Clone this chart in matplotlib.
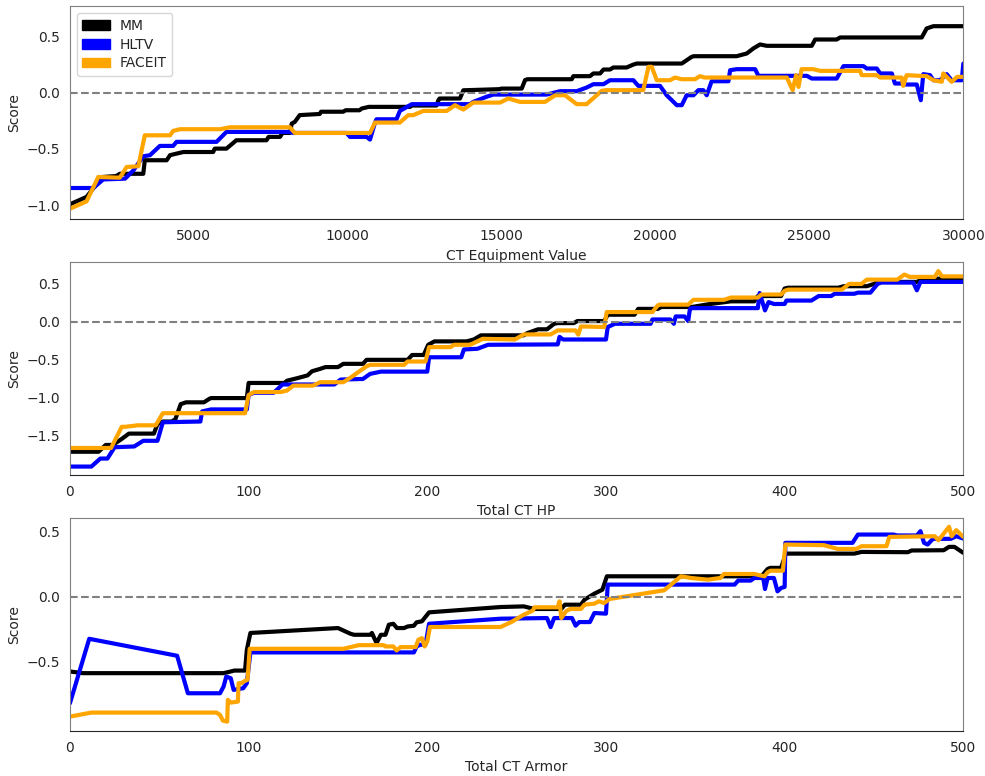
import numpy as np
import matplotlib
matplotlib.use("Agg")
import matplotlib.pyplot as plt
import matplotlib.patches as mpatches
import seaborn as sns

# ---- panel 1: CT Equipment Value ----
equip_mm_x = [1000, 1540, 1900, 1970, 2500, 2620, 3380, 3430, 4140, 4250, 4680, 5650, 5700, 6080, 6300, 6400,
              7380, 7450, 7820, 7900, 8140, 8200, 8300, 8460, 9110, 9150, 9870, 9950, 10400, 10470, 10700, 12040,
              12100, 12900, 12960, 13000, 13660, 13770, 14960, 15000, 15665, 15773, 15850, 17290, 17340, 17880,
              17990, 18210, 18320, 18530, 18640, 19070, 19290, 19400, 20860, 21180, 21250, 22640, 22970, 23180,
              23400, 23620, 25080, 25190, 25890, 26000, 28650, 28810, 29030, 30000]
equip_mm_y = [-0.99, -0.925, -0.80, -0.75, -0.74, -0.72, -0.72, -0.60, -0.60, -0.555, -0.527, -0.527, -0.497,
              -0.497, -0.447, -0.423, -0.423, -0.393, -0.393, -0.358, -0.358, -0.275, -0.26, -0.20, -0.19, -0.17,
              -0.17, -0.157, -0.157, -0.142, -0.127, -0.127, -0.115, -0.115, -0.068, -0.053, -0.053, 0.02, 0.03,
              0.035, 0.035, 0.11, 0.118, 0.118, 0.145, 0.145, 0.169, 0.169, 0.204, 0.204, 0.222, 0.222, 0.248,
              0.257, 0.257, 0.316, 0.322, 0.322, 0.346, 0.39, 0.426, 0.414, 0.414, 0.47, 0.47, 0.488, 0.488,
              0.568, 0.588, 0.588]

equip_hltv_x = [1000, 1760, 2080, 2790, 3060, 3380, 3600, 3920, 4350, 4460, 5760, 6080, 8140, 8250, 9980, 10090,
                10630, 10740, 10900, 10950, 11600, 11710, 12040, 12100, 13990, 14090, 14520, 14740, 16475, 16910,
                17450, 17770, 17990, 18320, 18530, 19290, 19450, 20155, 20370, 20700, 20860, 21020, 21240, 21400,
                21560, 21670, 21830, 22375, 22430, 22640, 23240, 23350, 24920, 25080, 25890, 26110, 26760, 26860,
                27190, 27300, 27680, 27780, 28000, 28110, 28490, 28620, 28700, 28920, 29030, 29240, 29460, 29620,
                29950, 30000]
equip_hltv_y = [-0.846, -0.846, -0.77, -0.763, -0.69, -0.565, -0.555, -0.473, -0.473, -0.437, -0.437, -0.349,
                -0.349, -0.358, -0.358, -0.393, -0.393, -0.417, -0.269, -0.237, -0.237, -0.163, -0.112, -0.103,
                -0.103, -0.083, -0.038, -0.018, -0.018, 0.012, 0.012, 0.044, 0.074, 0.074, 0.109, 0.109, 0.059,
                0.059, -0.024, -0.112, -0.112, -0.024, -0.024, 0.021, 0.021, -0.024, 0.10, 0.10, 0.198, 0.207,
                0.207, 0.148, 0.148, 0.124, 0.124, 0.234, 0.234, 0.213, 0.213, 0.169, 0.169, 0.08, 0.08, 0.071,
                0.071, -0.068, 0.163, 0.154, 0.109, 0.109, 0.163, 0.109, 0.109, 0.257]

equip_faceit_x = [1000, 1540, 1920, 2515, 2620, 2840, 3220, 3430, 4250, 4350, 4570, 5870, 6190, 8140, 8300, 10740,
                  10900, 11710, 11980, 12150, 12470, 13230, 13500, 13770, 14090, 14960, 15230, 15610, 16420, 16750,
                  17070, 17450, 17770, 18260, 18400, 19610, 19780, 19885, 20050, 20480, 20640, 20860, 21290, 21450,
                  21600, 24270, 24460, 24570, 24650, 24750, 25130, 25350, 26650, 26700, 27190, 27300, 27840, 28000,
                  28050, 28160, 28810, 29030, 29300, 29350, 29460, 29620, 29800, 30000]
equip_faceit_y = [-1.03, -0.964, -0.748, -0.754, -0.754, -0.66, -0.653, -0.379, -0.379, -0.34, -0.325, -0.325,
                  -0.308, -0.308, -0.358, -0.358, -0.266, -0.266, -0.201, -0.2, -0.163, -0.163, -0.112, -0.151,
                  -0.089, -0.089, -0.053, -0.083, -0.083, -0.024, -0.024, -0.103, -0.103, 0.015, 0.021, 0.021,
                  0.228, 0.228, 0.109, 0.109, 0.133, 0.118, 0.118, 0.145, 0.133, 0.133, 0.021, 0.154, 0.05, 0.207,
                  0.207, 0.192, 0.192, 0.154, 0.154, 0.133, 0.133, 0.133, 0.059, 0.154, 0.145, 0.109, 0.095, 0.169,
                  0.139, 0.095, 0.139, 0.139]

# ---- panel 2: Total CT HP ----
hp_mm_x = [0, 16, 20, 24, 29, 33, 47, 49, 52, 57, 59, 62, 65, 75, 78, 79, 99, 100, 120, 121.5, 127, 133, 135.5,
           140, 143, 150, 153, 164, 166, 189, 191.5, 198, 200.5, 204, 222, 226, 230, 254, 256, 262, 267, 271, 273,
           282, 284, 299, 301, 316, 318, 329, 331, 348, 357, 370, 383, 385, 398, 400, 402, 430, 433, 446, 450, 452,
           474, 478, 500]
hp_mm_y = [-1.72, -1.72, -1.63, -1.63, -1.55, -1.48, -1.48, -1.354, -1.32, -1.32, -1.29, -1.09, -1.066, -1.066,
           -1.02, -1.01, -1.01, -0.81, -0.81, -0.78, -0.748, -0.71, -0.655, -0.624, -0.60, -0.60, -0.557, -0.557,
           -0.504, -0.504, -0.44, -0.44, -0.305, -0.26, -0.26, -0.235, -0.18, -0.18, -0.15, -0.10, -0.10, -0.027,
           -0.018, -0.018, 0.009, 0.009, 0.093, 0.093, 0.17, 0.17, 0.195, 0.195, 0.23, 0.27, 0.27, 0.34, 0.34, 0.44,
           0.45, 0.45, 0.47, 0.47, 0.50, 0.527, 0.527, 0.57, 0.57]

hp_hltv_x = [0, 12, 17, 21, 25, 36, 41, 49, 52, 73, 74, 79, 99, 100, 103, 114, 119, 148, 151.5, 164, 168, 174, 200,
             201, 219, 220.5, 228, 234, 273, 274, 276, 300, 301, 305, 325, 326, 336, 338, 339, 344, 346, 347, 348,
             385, 386, 389, 391, 394, 400, 401, 415, 419, 426, 428, 439, 441, 448, 452, 454, 472, 474, 476, 500]
hp_hltv_y = [-1.916, -1.916, -1.81, -1.81, -1.66, -1.65, -1.575, -1.575, -1.33, -1.32, -1.186, -1.16, -1.16,
             -0.97, -0.94, -0.94, -0.83, -0.83, -0.765, -0.757, -0.69, -0.66, -0.66, -0.47, -0.47, -0.367, -0.358,
             -0.305, -0.30, -0.20, -0.235, -0.235, -0.07, -0.027, -0.027, 0.03, 0.03, -0.027, 0.07, 0.07, 0.009,
             0.17, 0.18, 0.18, 0.38, 0.15, 0.26, 0.235, 0.235, 0.28, 0.28, 0.34, 0.34, 0.37, 0.37, 0.385, 0.385,
             0.50, 0.518, 0.518, 0.416, 0.527, 0.527]

hp_faceit_x = [0, 23, 29, 31, 38, 48, 52, 98, 100, 103, 118, 121.5, 125, 136, 140, 153, 157, 162.6, 166, 168, 187,
               189, 199, 201, 213, 215, 224, 231, 249, 254, 269, 273, 283, 284.5, 286, 299, 300.4, 326, 329, 330,
               346, 349, 366, 370, 385, 387, 398, 400, 402, 432, 436, 443, 446, 463, 467, 470, 484, 486, 488, 500]
hp_faceit_y = [-1.67, -1.67, -1.39, -1.39, -1.37, -1.37, -1.21, -1.21, -0.97, -0.93, -0.93, -0.91, -0.845, -0.845,
               -0.80, -0.80, -0.74, -0.646, -0.59, -0.57, -0.57, -0.526, -0.526, -0.336, -0.336, -0.305, -0.305,
               -0.226, -0.235, -0.168, -0.168, -0.115, -0.115, -0.17, -0.062, -0.07, 0.128, 0.128, 0.217, 0.226,
               0.226, 0.29, 0.29, 0.32, 0.32, 0.36, 0.36, 0.41, 0.425, 0.425, 0.50, 0.50, 0.557, 0.557, 0.624, 0.593,
               0.593, 0.67, 0.60, 0.60]

# ---- panel 3: Total CT Armor ----
armor_mm_x = [0, 7.5, 86, 90, 92, 98, 99, 101, 150, 157, 159, 168, 169, 171.6, 174, 176.6, 178.5, 181, 183, 187,
              189, 192.5, 194, 197, 201, 241, 254, 260, 275, 277, 286, 288, 293.5, 298, 300.5, 387, 390.5, 392, 398,
              400.7, 439, 443, 469, 471, 489, 492, 495, 500]
armor_mm_y = [-0.577, -0.59, -0.59, -0.577, -0.57, -0.57, -0.41, -0.28, -0.242, -0.286, -0.294, -0.294, -0.28,
              -0.358, -0.294, -0.294, -0.216, -0.209, -0.242, -0.242, -0.23, -0.224, -0.198, -0.19, -0.121, -0.08,
              -0.075, -0.095, -0.095, -0.062, -0.062, -0.023, 0.023, 0.054, 0.157, 0.157, 0.214, 0.222, 0.222,
              0.332, 0.332, 0.345, 0.343, 0.356, 0.358, 0.384, 0.384, 0.338]

armor_hltv_x = [0, 10.8, 60, 66, 84, 86, 87.5, 90, 91.6, 97, 99, 101, 192.5, 194, 196, 199, 201, 241, 267, 269, 271,
                281, 283, 285, 291, 293.5, 300, 301, 372, 374, 381, 383, 388, 389, 390.5, 394, 396, 398, 400, 400.4,
                438, 441, 461, 463, 474, 476, 478, 480, 483, 493, 496, 500]
armor_hltv_y = [-0.822, -0.325, -0.456, -0.745, -0.745, -0.693, -0.616, -0.629, -0.719, -0.706, -0.667, -0.43,
                -0.43, -0.384, -0.371, -0.371, -0.209, -0.17, -0.165, -0.235, -0.165, -0.165, -0.224, -0.196,
                -0.196, -0.126, -0.131, 0.093, 0.093, 0.124, 0.124, 0.144, 0.144, 0.059, 0.144, 0.144, 0.041, 0.067,
                0.075, 0.415, 0.415, 0.479, 0.479, 0.472, 0.472, 0.505, 0.415, 0.402, 0.446, 0.446, 0.466, 0.448]

armor_faceit_x = [0, 12, 82, 84, 85.6, 88, 88.4, 90, 94, 94.4, 96, 98, 99.4, 100.6, 153, 161.7, 175.7, 176.6, 181,
                  182.8, 185, 193.5, 195, 197, 198.5, 200, 201.5, 241, 247, 254, 259, 260, 273, 274, 275, 277.6, 280,
                  286, 288, 293.5, 296, 299, 302, 332.6, 342, 347.6, 357, 364, 366, 383, 388.6, 390.5, 392, 399,
                  400.4, 422, 429.7, 440, 443, 457, 458.6, 484, 486, 488.6, 492, 493.5, 496, 498, 500]
armor_faceit_y = [-0.925, -0.894, -0.894, -0.912, -0.956, -0.964, -0.796, -0.817, -0.809, -0.667, -0.667, -0.649,
                  -0.642, -0.402, -0.402, -0.374, -0.374, -0.384, -0.384, -0.415, -0.389, -0.389, -0.332, -0.32,
                  -0.384, -0.345, -0.234, -0.234, -0.196, -0.139, -0.108, -0.082, -0.082, -0.036, -0.165, -0.113,
                  -0.095, -0.095, -0.062, -0.054, -0.036, -0.049, -0.018, 0.049, 0.157, 0.144, 0.131, 0.144, 0.175,
                  0.175, 0.157, 0.188, 0.20, 0.20, 0.402, 0.397, 0.368, 0.368, 0.389, 0.389, 0.461, 0.466, 0.435,
                  0.479, 0.539, 0.466, 0.513, 0.487, 0.461]

series_names = ["MM", "HLTV", "FACEIT"]
colors = ["black", "blue", "orange"]

panels = [
    ("CT Equipment Value", [(equip_mm_x, equip_mm_y), (equip_hltv_x, equip_hltv_y), (equip_faceit_x, equip_faceit_y)],
     (1000, 30000), (-1.124, 0.765), [5000, 10000, 15000, 20000, 25000, 30000], [-1.0, -0.5, 0.0, 0.5]),
    ("Total CT HP", [(hp_mm_x, hp_mm_y), (hp_hltv_x, hp_hltv_y), (hp_faceit_x, hp_faceit_y)],
     (0, 500), (-2.03, 0.79), [0, 100, 200, 300, 400, 500], [-1.5, -1.0, -0.5, 0.0, 0.5]),
    ("Total CT Armor", [(armor_mm_x, armor_mm_y), (armor_hltv_x, armor_hltv_y), (armor_faceit_x, armor_faceit_y)],
     (0, 500), (-1.036, 0.608), [0, 100, 200, 300, 400, 500], [-0.5, 0.0, 0.5]),
]

sns.set_style("white")
fig, axes = plt.subplots(3, 1, figsize=(9.85, 7.76), dpi=100)
fig.subplots_adjust(left=0.071, right=0.978, top=0.992, bottom=0.058, hspace=0.2)

for ax, (xlabel, lines, xlim, ylim, xt, yt) in zip(axes, panels):
    for (x, y), c in zip(lines, colors):
        ax.plot(x, y, color=c, lw=3)
    ax.axhline(0, color="gray", ls="--", lw=1.5)
    ax.set_xlim(xlim)
    ax.set_ylim(ylim)
    ax.set_xticks(xt)
    ax.set_yticks(yt)
    ax.set_xlabel(xlabel)
    ax.set_ylabel("Score")
    for s in ["left", "top", "right"]:
        ax.spines[s].set_color("0.5")

handles = [mpatches.Patch(color=c, label=n) for c, n in zip(colors, series_names)]
axes[0].legend(handles=handles, loc="upper left", fontsize=10, labelspacing=0.35, handletextpad=0.7)

fig.savefig("out.png")
